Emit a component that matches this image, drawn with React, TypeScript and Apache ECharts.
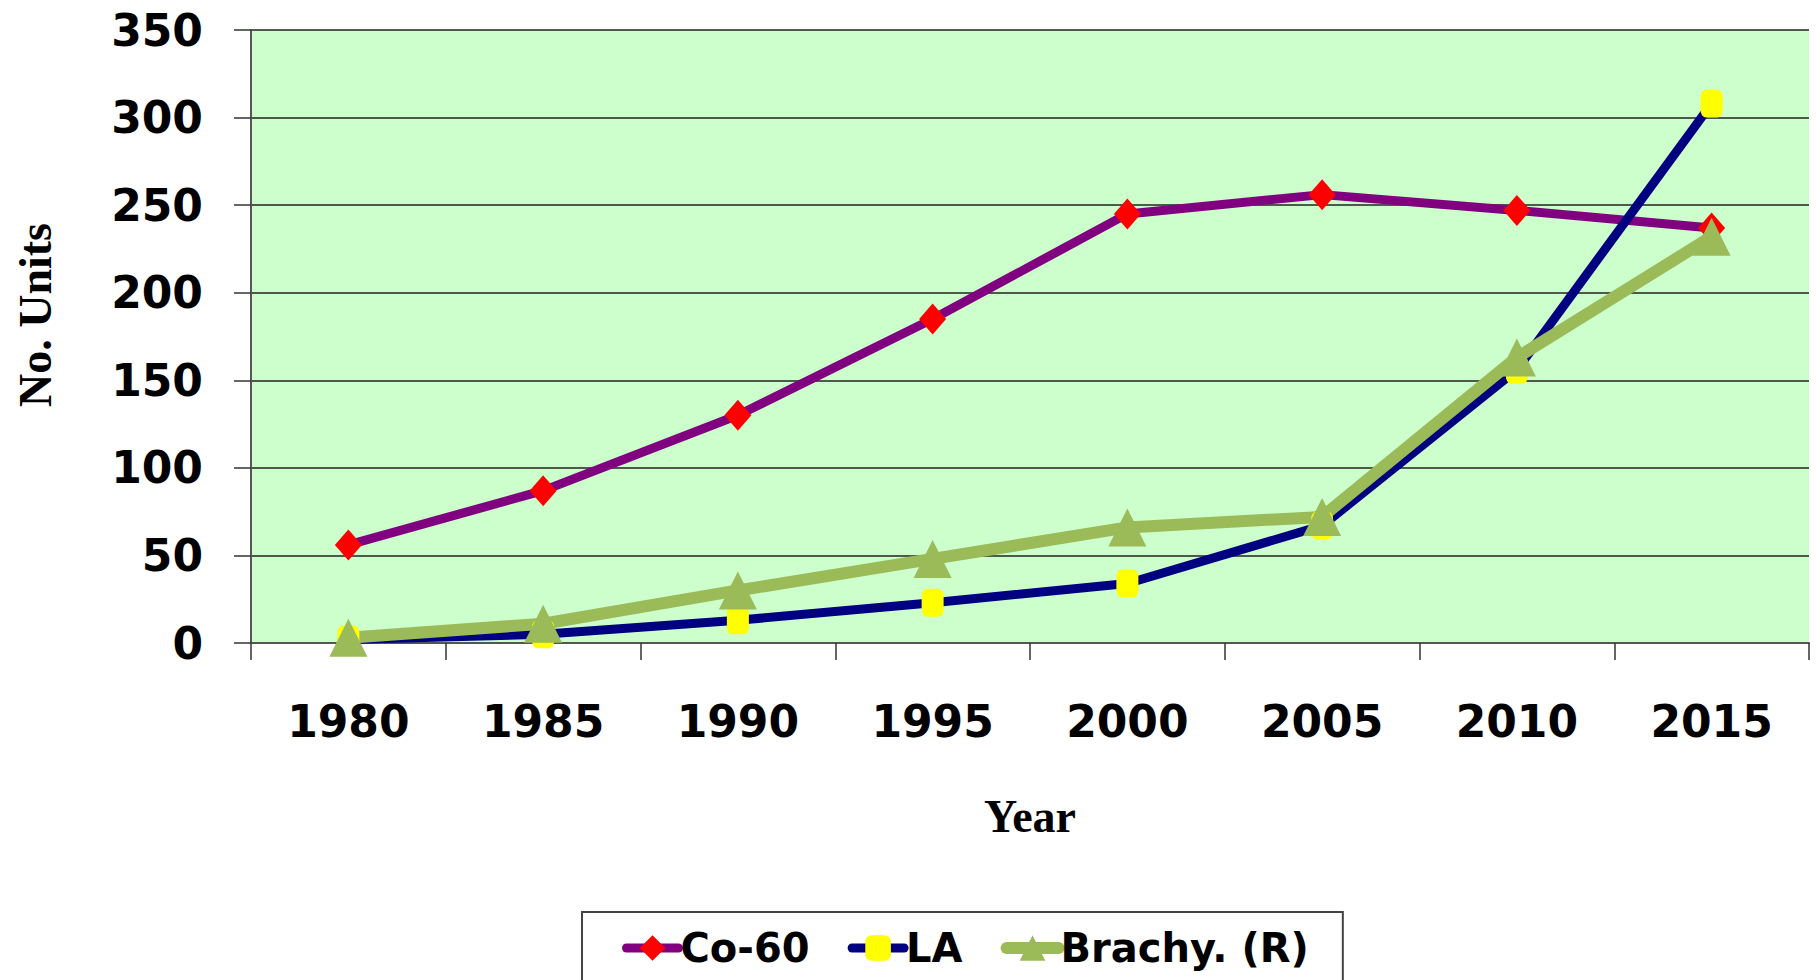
import React, { useEffect, useRef } from "react";
import * as echarts from "echarts";

const years = ["1980", "1985", "1990", "1995", "2000", "2005", "2010", "2015"];
const co60 = [56, 87, 130, 185, 245, 256, 247, 237];
const la = [2, 5, 13, 23, 34, 67, 156, 308];
const brachy = [3, 11, 30, 48, 66, 72, 163, 232];
const seriesNames = ["Co-60", "LA", "Brachy. (R)"];

export default function App() {
  const ref = useRef<HTMLDivElement>(null);
  useEffect(() => {
    const chart = echarts.init(ref.current!, null, { renderer: "svg" });
    const labelFont = { fontFamily: "DejaVu Sans", fontWeight: "bold", fontSize: 44, color: "#000" };
    chart.setOption({
      animation: false,
      grid: {
        left: 251, right: 7, top: 30, bottom: 337,
        show: true, backgroundColor: "#CCFFCC", borderWidth: 0,
      },
      legend: {
        data: [
          { name: seriesNames[0], lineStyle: { width: 9, cap: "round" } },
          { name: seriesNames[1], lineStyle: { width: 9, cap: "round" } },
          { name: seriesNames[2], lineStyle: { width: 12, cap: "round" } },
        ],
        left: 582, top: 912,
        padding: [16, 34, 30, 40],
        itemGap: 38,
        itemWidth: 52,
        itemHeight: 32,
        borderColor: "#444",
        borderWidth: 2,
        backgroundColor: "#fff",
        textStyle: { ...labelFont, fontSize: 40, padding: [0, 0, 0, -3] },
      },
      xAxis: {
        type: "category",
        data: years,
        boundaryGap: true,
        axisLine: { lineStyle: { color: "#555", width: 2 } },
        axisTick: { show: true, length: 17, lineStyle: { color: "#333", width: 1.5 } },
        axisLabel: { ...labelFont, margin: 56 },
        name: "Year",
        nameLocation: "middle",
        nameGap: 150,
        nameTextStyle: { fontFamily: "Liberation Serif", fontWeight: "bold", fontSize: 46, color: "#000", verticalAlign: "top" },
      },
      yAxis: {
        type: "value",
        min: 0, max: 350, interval: 50,
        axisLine: { show: true, lineStyle: { color: "#555", width: 2 } },
        axisTick: { show: true, length: 17, lineStyle: { color: "#333", width: 1.5 } },
        splitLine: { show: true, lineStyle: { color: "#222", width: 1.5 } },
        axisLabel: { ...labelFont, margin: 48 },
      },
      graphic: [
        {
          type: "text",
          x: 35, y: 315,
          rotation: Math.PI / 2,
          style: {
            text: "No. Units",
            fontFamily: "Liberation Serif", fontWeight: "bold", fontSize: 46, fill: "#000",
            align: "center", verticalAlign: "middle",
          },
        },
      ],
      series: [
        {
          name: seriesNames[0], type: "line", data: co60,
          symbol: "diamond", symbolSize: [27, 31],
          lineStyle: { color: "#800080", width: 9 },
          itemStyle: { color: "#FF0000" },
        },
        {
          name: seriesNames[1], type: "line", data: la,
          symbol: "roundRect", symbolSize: [22, 28],
          lineStyle: { color: "#000080", width: 9 },
          itemStyle: { color: "#FFFF00" },
        },
        {
          name: seriesNames[2], type: "line", data: brachy,
          symbol: "triangle", symbolSize: [38, 38],
          lineStyle: { color: "#9BBB59", width: 12 },
          itemStyle: { color: "#9BBB59" },
        },
      ],
    });
    return () => chart.dispose();
  }, []);
  return <div ref={ref} style={{ width: 1816, height: 980, position: "absolute", left: 0, top: 0 }} />;
}
